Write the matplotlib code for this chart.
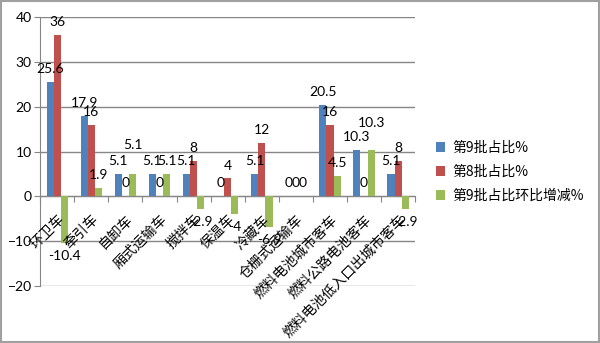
import matplotlib
matplotlib.use("Agg")
import matplotlib.pyplot as plt
import matplotlib.transforms as mtransforms
from matplotlib.patches import Rectangle
import numpy as np

plt.rcParams['font.family'] = ['Noto Sans CJK SC', 'DejaVu Sans']

# categories and series
categories = ['环卫车', '牵引车', '自卸车', '厢式运输车', '搅拌车', '保温车', '冷藏车',
              '仓栅式运输车', '燃料电池城市客车', '燃料公路电池客车', '燃料电池低入口出城市客车']
batch9 = [25.6, 17.9, 5.1, 5.1, 5.1, 0, 5.1, 0, 20.5, 10.3, 5.1]
batch8 = [36, 16, 0, 0, 8, 4, 12, 0, 16, 0, 8]
change = [-10.4, 1.9, 5.1, 5.1, -2.9, -4, -6.9, 0, 4.5, 10.3, -2.9]
series_names = ['第9批占比%', '第8批占比%', '第9批占比环比增减%']
colors = ['#4F81BD', '#C0504D', '#9BBB59']

# labels that were pushed up by hand in the original (series, category): extra points
label_nudge = {(2, 2): 11, (2, 9): 10}

fig = plt.figure(figsize=(6, 3.43), dpi=100)
ax = fig.add_axes([0.067, 0.166, 0.625, 0.784])

x = np.arange(len(categories))
w = 0.21
for k, (vals, name, c) in enumerate(zip([batch9, batch8, change], series_names, colors)):
    bars = ax.bar(x + (k - 1) * w, vals, w, color=c, label=name, zorder=3)
    for i, (b, v) in enumerate(zip(bars, vals)):
        off = 5 + label_nudge.get((k, i), 0) if v >= 0 else -5
        ax.annotate('%g' % v, (b.get_x() + b.get_width() / 2, v),
                    xytext=(0, off), textcoords='offset points',
                    ha='center', va='bottom' if v >= 0 else 'top',
                    fontsize=10, family='Lato', zorder=4)

ax.set_xlim(-0.5, len(categories) - 0.5)
ax.set_ylim(-20, 40)
ax.set_yticks(range(-20, 41, 10))
ax.yaxis.grid(True, color='#868686', linewidth=1, zorder=0)
ax.tick_params(axis='y', length=4, color='#868686', labelsize=10, pad=2)
for t in ax.get_yticklabels():
    t.set_family('Lato')

ax.spines['bottom'].set_position(('data', 0))
ax.spines['bottom'].set_color('#868686')
ax.spines['left'].set_color('#868686')
ax.spines['top'].set_visible(False)
ax.spines['right'].set_visible(False)
ax.set_xticks(np.arange(len(categories) + 1) - 0.5)
ax.set_xticklabels([])
ax.tick_params(axis='x', length=4, color='#868686', direction='out')

offset = mtransforms.ScaledTranslation(0 / 100, -16 / 100, fig.dpi_scale_trans)
for i, lab in enumerate(categories):
    ax.text(i, 0, lab, rotation=45, rotation_mode='anchor', ha='right', va='top',
            fontsize=10, transform=ax.transData + offset, zorder=5)

fig.legend(loc='upper left', bbox_to_anchor=(0.705, 0.625), frameon=False,
           fontsize=10, handlelength=0.7, handleheight=0.7, handletextpad=0.5,
           labelspacing=0.7)

fig.patches.append(Rectangle((0.002, 0.003), 0.996, 0.994, transform=fig.transFigure,
                             fill=False, edgecolor='#A0A0A0', linewidth=1.5))

fig.savefig('out.png', dpi=100)
